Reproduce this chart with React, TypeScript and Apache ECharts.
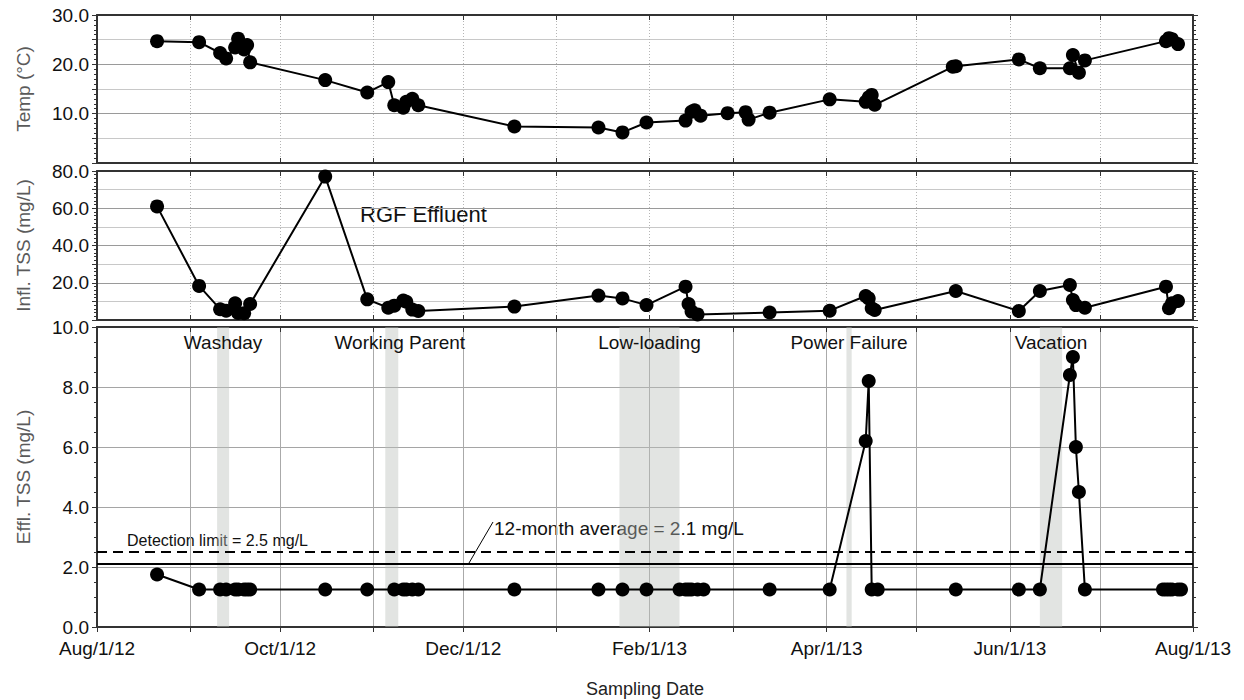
import React, { useEffect, useRef } from 'react';
import * as echarts from 'echarts';

// ---------- data ----------
const xMin = '2012-08-01';
const xMax = '2013-08-01';
const xTickDates = ['2012-08-01', '2012-10-01', '2012-12-01', '2013-02-01', '2013-04-01', '2013-06-01', '2013-08-01'];
const xTickLabels = ['Aug/1/12', 'Oct/1/12', 'Dec/1/12', 'Feb/1/13', 'Apr/1/13', 'Jun/1/13', 'Aug/1/13'];

const tempDates = [
  '2012-08-21', '2012-09-04', '2012-09-11', '2012-09-13', '2012-09-16', '2012-09-17', '2012-09-19', '2012-09-20', '2012-09-21',
  '2012-10-16', '2012-10-30', '2012-11-06', '2012-11-08', '2012-11-11', '2012-11-12', '2012-11-14', '2012-11-16',
  '2012-12-18', '2013-01-15', '2013-01-23', '2013-01-31', '2013-02-13', '2013-02-15', '2013-02-16', '2013-02-18',
  '2013-02-27', '2013-03-05', '2013-03-06', '2013-03-13', '2013-04-02', '2013-04-14', '2013-04-15', '2013-04-16', '2013-04-17',
  '2013-05-13', '2013-05-14', '2013-06-04', '2013-06-11', '2013-06-21', '2013-06-22', '2013-06-24', '2013-06-26',
  '2013-07-23', '2013-07-24', '2013-07-25', '2013-07-27',
];
const tempValues = [
  24.7, 24.5, 22.3, 21.2, 23.4, 25.2, 23.0, 23.9, 20.4,
  16.8, 14.3, 16.4, 11.7, 11.2, 12.4, 13.0, 11.7,
  7.4, 7.2, 6.2, 8.2, 8.6, 10.4, 10.7, 9.6,
  10.1, 10.3, 8.8, 10.2, 12.9, 12.4, 13.3, 13.8, 11.8,
  19.5, 19.6, 21.0, 19.2, 19.2, 21.9, 18.3, 20.8,
  24.7, 25.3, 25.1, 24.1,
];

const inflDates = [
  '2012-08-21', '2012-09-04', '2012-09-11', '2012-09-13', '2012-09-16', '2012-09-17', '2012-09-19', '2012-09-21',
  '2012-10-16', '2012-10-30', '2012-11-06', '2012-11-08', '2012-11-11', '2012-11-12', '2012-11-14', '2012-11-16',
  '2012-12-18', '2013-01-15', '2013-01-23', '2013-01-31', '2013-02-13', '2013-02-14', '2013-02-15', '2013-02-17',
  '2013-03-13', '2013-04-02', '2013-04-14', '2013-04-15', '2013-04-16', '2013-04-17', '2013-05-14',
  '2013-06-04', '2013-06-11', '2013-06-21', '2013-06-22', '2013-06-23', '2013-06-26',
  '2013-07-23', '2013-07-24', '2013-07-25', '2013-07-27',
];
const inflValues = [
  61.0, 18.3, 5.8, 5.0, 9.0, 3.8, 3.6, 8.6,
  77.0, 11.1, 6.6, 7.7, 10.5, 9.8, 5.6, 4.8,
  7.2, 13.1, 11.6, 8.0, 17.9, 8.6, 4.5, 3.0,
  4.0, 5.0, 12.9, 11.6, 6.3, 5.4, 15.6,
  4.8, 15.6, 18.8, 10.7, 8.0, 6.6,
  17.9, 6.3, 9.0, 10.2,
];

const efflDates = [
  '2012-08-21', '2012-09-04', '2012-09-11', '2012-09-13', '2012-09-16', '2012-09-17', '2012-09-19', '2012-09-20', '2012-09-21',
  '2012-10-16', '2012-10-30', '2012-11-08', '2012-11-11', '2012-11-12', '2012-11-14', '2012-11-16',
  '2012-12-18', '2013-01-15', '2013-01-23', '2013-01-31', '2013-02-11', '2013-02-13', '2013-02-14', '2013-02-15',
  '2013-02-17', '2013-02-19', '2013-03-13', '2013-04-02', '2013-04-14', '2013-04-15', '2013-04-16', '2013-04-18',
  '2013-05-14', '2013-06-04', '2013-06-11', '2013-06-21', '2013-06-22', '2013-06-23', '2013-06-24', '2013-06-26',
  '2013-07-22', '2013-07-23', '2013-07-24', '2013-07-25', '2013-07-27', '2013-07-28',
];
const efflValues = [
  1.75, 1.25, 1.25, 1.25, 1.25, 1.25, 1.25, 1.25, 1.25,
  1.25, 1.25, 1.25, 1.25, 1.25, 1.25, 1.25,
  1.25, 1.25, 1.25, 1.25, 1.25, 1.25, 1.25, 1.25,
  1.25, 1.25, 1.25, 1.25, 6.2, 8.2, 1.25, 1.25,
  1.25, 1.25, 1.25, 8.4, 9.0, 6.0, 4.5, 1.25,
  1.25, 1.25, 1.25, 1.25, 1.25, 1.25,
];

const detectionLimit = 2.5;
const annualAverage = 2.1;

const eventNames = ['Washday', 'Working Parent', 'Low-loading', 'Power Failure', 'Vacation'];
const eventStarts = ['2012-09-10', '2012-11-05', '2013-01-22', '2013-04-07 14:00', '2013-06-11'];
const eventEnds = ['2012-09-14', '2012-11-09 08:00', '2013-02-11', '2013-04-09 08:00', '2013-06-18 10:00'];

const tempTicks = [10, 20, 30];
const inflTicks = [20, 40, 60, 80];
const efflTicks = [0, 2, 4, 6, 8, 10];

// ---------- helpers ----------
const FONT = "'Liberation Sans', Arial, Helvetica, sans-serif";
const AXIS_COLOR = '#333';
const DAY = 24 * 3600 * 1000;

function parseDay(s: string): number {
  const [y, m, d] = s.split('-').map(Number);
  return new Date(y, m - 1, d).getTime();
}
const tickTimes = xTickDates.map(parseDay);

function pairs(dates: string[], values: number[]) {
  return dates.map((d, i) => [d, values[i]]);
}

function xAxisDef(gridIndex: number, position: 'top' | 'bottom', showLabels: boolean, solidGrid: boolean, showSplit: boolean, name?: string) {
  return {
    type: 'time',
    gridIndex,
    position,
    min: xMin,
    max: xMax,
    minInterval: 27 * DAY,
    maxInterval: 31 * DAY,
    name,
    nameLocation: 'middle',
    nameGap: 53,
    nameTextStyle: { fontSize: 18, color: '#222', fontFamily: FONT },
    axisLine: { show: true, onZero: false, lineStyle: { color: AXIS_COLOR, width: 2 } },
    axisTick: { show: true, inside: !showLabels, length: 5, lineStyle: { color: AXIS_COLOR, width: 1 } },
    axisLabel: showLabels
      ? {
          show: true,
          interval: 0,
          hideOverlap: false,
          showMinLabel: true,
          showMaxLabel: true,
          fontSize: 19,
          color: '#111',
          fontFamily: FONT,
          margin: 12,
          formatter: (val: number) => {
            const idx = tickTimes.findIndex((t) => Math.abs(t - val) < DAY / 2);
            return idx >= 0 ? xTickLabels[idx] : '';
          },
        }
      : { show: false },
    splitLine: {
      show: showSplit,
      lineStyle: solidGrid ? { color: '#aaa', width: 1, type: 'solid' } : { color: '#b5b5b5', width: 1, type: [1, 2] },
    },
  };
}

function yAxisDef(
  gridIndex: number,
  position: 'left' | 'right',
  max: number,
  interval: number,
  minorSplit: number,
  ticks: number[],
  splitColors: string[] | string,
  name?: string,
) {
  const left = position === 'left';
  return {
    type: 'value',
    gridIndex,
    position,
    min: 0,
    max,
    interval,
    name: left ? name : undefined,
    nameLocation: 'middle',
    nameGap: 64,
    nameTextStyle: { fontSize: 19, color: '#5a5a5a', fontFamily: FONT },
    axisLine: { show: true, onZero: false, lineStyle: { color: AXIS_COLOR, width: 2 } },
    axisTick: { show: true, inside: false, length: 5, lineStyle: { color: AXIS_COLOR, width: 1 } },
    minorTick: { show: true, splitNumber: minorSplit, length: 3, lineStyle: { color: AXIS_COLOR, width: 1 } },
    axisLabel: left
      ? {
          show: true,
          fontSize: 19,
          color: '#111',
          fontFamily: FONT,
          margin: 8,
          formatter: (v: number) => (ticks.some((t) => Math.abs(t - v) < 1e-6) ? v.toFixed(1) : ''),
        }
      : { show: false },
    splitLine: left ? { show: true, lineStyle: { color: splitColors, width: 1 } } : { show: false },
  };
}

const lineSeries = (xAxisIndex: number, yAxisIndex: number, data: any[]) => ({
  type: 'line',
  xAxisIndex,
  yAxisIndex,
  data,
  symbol: 'circle',
  symbolSize: 14,
  showAllSymbol: true,
  lineStyle: { color: '#000', width: 2 },
  itemStyle: { color: '#000' },
  z: 5,
});

const option: any = {
  animation: false,
  backgroundColor: '#fff',
  textStyle: { fontFamily: FONT },
  grid: [
    { left: 97, right: 51, top: 15, height: 148 },
    { left: 97, right: 51, top: 171, height: 149 },
    { left: 97, right: 51, top: 327, height: 300 },
  ],
  xAxis: [
    xAxisDef(0, 'bottom', false, false, true),
    xAxisDef(1, 'bottom', false, false, true),
    xAxisDef(2, 'bottom', true, true, true, 'Sampling Date'),
    xAxisDef(0, 'top', false, false, false),
    xAxisDef(1, 'top', false, false, false),
    xAxisDef(2, 'top', false, false, false),
  ],
  yAxis: [
    yAxisDef(0, 'left', 30, 5, 5, tempTicks, ['#9a9a9a', '#c8c8c8'], 'Temp (°C)'),
    yAxisDef(1, 'left', 80, 10, 5, inflTicks, ['#9a9a9a', '#c8c8c8'], 'Infl. TSS (mg/L)'),
    yAxisDef(2, 'left', 10, 2, 4, efflTicks, '#a5a5a5', 'Effl. TSS (mg/L)'),
    yAxisDef(0, 'right', 30, 5, 5, tempTicks, '#ccc'),
    yAxisDef(1, 'right', 80, 10, 5, inflTicks, '#ccc'),
    yAxisDef(2, 'right', 10, 2, 4, efflTicks, '#ccc'),
  ],
  series: [
    lineSeries(0, 0, pairs(tempDates, tempValues)),
    lineSeries(1, 1, pairs(inflDates, inflValues)),
    {
      ...lineSeries(2, 2, pairs(efflDates, efflValues)),
      markArea: {
        silent: true,
        itemStyle: { color: 'rgba(185,190,185,0.42)' },
        label: {
          show: true,
          position: 'insideTop',
          distance: 6,
          color: '#111',
          fontSize: 19,
          fontFamily: FONT,
        },
        data: eventNames.map((n, i) => [
          { name: n, xAxis: eventStarts[i], label: i === 1 ? { offset: [8, 0] } : undefined },
          { xAxis: eventEnds[i] },
        ]),
      },
      markLine: {
        silent: true,
        symbol: ['none', 'none'],
        label: { show: false },
        data: [
          { yAxis: detectionLimit, lineStyle: { type: [10, 6], color: '#000', width: 2 } },
          { yAxis: annualAverage, lineStyle: { type: 'solid', color: '#000', width: 2 } },
        ],
      },
    },
  ],
  graphic: [
    {
      type: 'text',
      left: 360,
      top: 203,
      style: { text: 'RGF Effluent', fontSize: 22, fill: '#111', fontFamily: FONT },
    },
    {
      type: 'text',
      left: 127,
      top: 532,
      style: { text: 'Detection limit = 2.5 mg/L', fontSize: 16, fill: '#111', fontFamily: FONT },
    },
    {
      type: 'text',
      left: 494,
      top: 519,
      style: { text: '12-month average = 2.1 mg/L', fontSize: 19, fill: '#111', fontFamily: FONT },
    },
    {
      type: 'line',
      shape: { x1: 469, y1: 563, x2: 493, y2: 522 },
      style: { stroke: '#000', lineWidth: 1 },
    },
  ],
};

export default function App() {
  const ref = useRef<HTMLDivElement>(null);
  useEffect(() => {
    if (!ref.current) return;
    const chart = echarts.init(ref.current, null, { renderer: 'svg' });
    chart.setOption(option);
    return () => chart.dispose();
  }, []);
  return <div ref={ref} style={{ position: 'absolute', left: 0, top: 0, width: 1244, height: 700, background: '#fff' }} />;
}
